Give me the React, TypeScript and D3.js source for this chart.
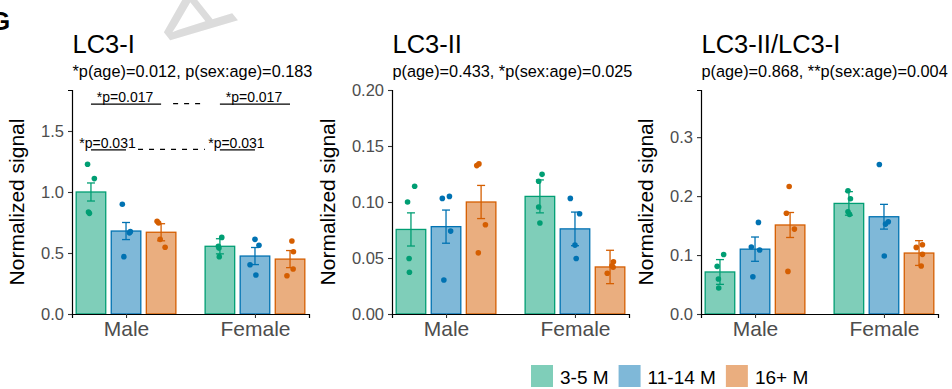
import React, { useEffect, useRef } from "react";
import * as d3 from "d3";

// groups
const sexes = ["Male", "Female"];
const ages = ["3-5 M", "11-14 M", "16+ M"];
const ageColors = ["#009E73", "#0072B2", "#D55E00"];

// panel text + y axis
const titles = ["LC3-I", "LC3-II", "LC3-II/LC3-I"];
const subtitles = [
  "*p(age)=0.012, p(sex:age)=0.183",
  "p(age)=0.433, *p(sex:age)=0.025",
  "p(age)=0.868, **p(sex:age)=0.004",
];
const yMaxes = [1.836, 0.2, 0.38];
const yTickValues = [
  [0, 0.5, 1.0, 1.5],
  [0, 0.05, 0.1, 0.15, 0.2],
  [0, 0.1, 0.2, 0.3],
];
const yTickFormats = [".1f", ".2f", ".1f"];

// LC3-I  -> [sex][age]
const lc3iMean = [[1.0, 0.68, 0.67], [0.555, 0.475, 0.45]];
const lc3iSe = [[0.074, 0.07, 0.07], [0.062, 0.07, 0.07]];
const lc3iPoints = [
  [[1.227, 1.11, 0.836, 0.825], [0.9, 0.675, 0.665, 0.47], [0.76, 0.746, 0.612, 0.547]],
  [[0.628, 0.555, 0.54, 0.47], [0.612, 0.563, 0.404, 0.32], [0.598, 0.51, 0.369, 0.314]],
];
const lc3iJitter = [
  [[-0.11, 0.11, -0.08, -0.05], [-0.12, 0.14, 0.11, -0.07], [-0.13, -0.08, -0.03, 0.13]],
  [[0.06, -0.05, -0.03, -0.02], [0, 0.13, -0.16, 0.03], [0.06, 0.11, 0.1, -0.1]],
];

// LC3-II
const lc3iiMean = [[0.0755, 0.078, 0.1], [0.105, 0.076, 0.042]];
const lc3iiSe = [[0.0148, 0.0148, 0.0148], [0.0147, 0.015, 0.0149]];
const lc3iiPoints = [
  [[0.114, 0.1, 0.0495, 0.0373], [0.1032, 0.105, 0.074, 0.0304], [0.134, 0.1325, 0.0797, 0.0546]],
  [[0.1247, 0.1185, 0.0955, 0.0812], [0.1032, 0.0895, 0.0615, 0.0495], [0.0466, 0.043, 0.0418, 0.0364]],
];
const lc3iiJitter = [
  [[0.12, -0.11, -0.06, -0.05], [-0.12, 0.11, 0.15, -0.07], [-0.07, -0.14, 0.14, -0.09]],
  [[0.07, -0.04, -0.04, 0], [-0.15, 0.15, 0, 0.04], [0.11, 0.06, 0.1, -0.09]],
];

// LC3-II/LC3-I
const ratioMean = [[0.0713, 0.11, 0.151], [0.1876, 0.165, 0.1034]];
const ratioSe = [[0.021, 0.0206, 0.0212], [0.02, 0.021, 0.021]];
const ratioPoints = [
  [[0.101, 0.0808, 0.0593, 0.044], [0.1554, 0.1136, 0.1085, 0.0633], [0.2164, 0.171, 0.144, 0.0723]],
  [[0.209, 0.1955, 0.1734, 0.169], [0.2537, 0.1565, 0.1525, 0.0983], [0.1175, 0.113, 0.1012, 0.0814]],
];
const ratioJitter = [
  [[0.12, -0.09, -0.05, -0.04], [0.11, -0.12, 0.15, -0.07], [-0.03, -0.12, 0.14, -0.07]],
  [[-0.03, 0.05, -0.03, 0.02], [-0.15, 0.14, 0.05, 0.01], [0.11, -0.09, 0.11, 0.07]],
];

// pairwise comparisons drawn on LC3-I
const lc3iBrackets = [
  { sex: "Male", from: "3-5 M", to: "16+ M", label: "*p=0.017", y: 1.72 },
  { sex: "Female", from: "3-5 M", to: "16+ M", label: "*p=0.017", y: 1.72 },
  { sex: "Male", from: "3-5 M", to: "11-14 M", label: "*p=0.031", y: 1.345 },
  { sex: "Female", from: "3-5 M", to: "11-14 M", label: "*p=0.031", y: 1.345 },
];

const means = [lc3iMean, lc3iiMean, ratioMean];
const ses = [lc3iSe, lc3iiSe, ratioSe];
const points = [lc3iPoints, lc3iiPoints, ratioPoints];
const jitters = [lc3iJitter, lc3iiJitter, ratioJitter];

const W = 952;
const H = 389;
const panelLefts = [72, 392, 701];
const plotW = 237;
const plotTop = 90;
const plotBottom = 314;
const font = "'Liberation Sans', Arial, Helvetica, sans-serif";

function drawPanel(svg, i) {
  const g = svg.append("g").attr("transform", `translate(${panelLefts[i]},0)`);

  const y = d3.scaleLinear().domain([0, yMaxes[i]]).range([plotBottom, plotTop]);
  const xSex = d3.scalePoint().domain(sexes).range([0, plotW]).padding(0.419);
  const xAge = d3.scaleBand().domain(ages).range([-50.5, 50.5]).paddingInner(0.12);
  const bw = xAge.bandwidth();
  const cx = (s, a) => xSex(s) + xAge(a) + bw / 2;

  const rows = [];
  sexes.forEach((s, si) =>
    ages.forEach((a, ai) =>
      rows.push({
        s, a, ai,
        mean: means[i][si][ai],
        se: ses[i][si][ai],
        pts: points[i][si][ai],
        jit: jitters[i][si][ai],
      })
    )
  );

  // bars
  g.selectAll("rect.bar").data(rows).enter().append("rect")
    .attr("class", "bar")
    .attr("x", d => cx(d.s, d.a) - bw / 2 + 0.65)
    .attr("width", bw - 1.3)
    .attr("y", d => y(d.mean))
    .attr("height", d => y(0) - y(d.mean))
    .attr("fill", d => ageColors[d.ai])
    .attr("fill-opacity", 0.5)
    .attr("stroke", d => ageColors[d.ai])
    .attr("stroke-width", 1.3);

  // error bars (mean +/- se)
  const eb = g.selectAll("g.eb").data(rows).enter().append("g")
    .attr("class", "eb")
    .attr("stroke", d => ageColors[d.ai])
    .attr("stroke-width", 1.3)
    .attr("fill", "none");
  eb.append("line")
    .attr("x1", d => cx(d.s, d.a)).attr("x2", d => cx(d.s, d.a))
    .attr("y1", d => y(d.mean + d.se)).attr("y2", d => y(d.mean - d.se));
  [1, -1].forEach(sign => {
    eb.append("line")
      .attr("x1", d => cx(d.s, d.a) - 4).attr("x2", d => cx(d.s, d.a) + 4)
      .attr("y1", d => y(d.mean + sign * d.se)).attr("y2", d => y(d.mean + sign * d.se));
  });

  // individual animals
  const dots = rows.flatMap(d => d.pts.map((v, k) => ({ ...d, v, j: d.jit[k] })));
  g.selectAll("circle.pt").data(dots).enter().append("circle")
    .attr("class", "pt")
    .attr("cx", d => cx(d.s, d.a) + d.j * bw)
    .attr("cy", d => y(d.v))
    .attr("r", 2.8)
    .attr("fill", d => ageColors[d.ai]);

  // axes
  const yAxis = d3.axisLeft(y)
    .tickValues(yTickValues[i])
    .tickFormat(d3.format(yTickFormats[i]))
    .tickSizeOuter(0)
    .tickSize(4)
    .tickPadding(4);
  const ya = g.append("g").call(yAxis);
  ya.selectAll("text").attr("font-size", 16.5).attr("fill", "#4d4d4d").attr("font-family", font);

  const xAxis = d3.axisBottom(xSex).tickSizeOuter(0).tickSize(4).tickPadding(3);
  const xa = g.append("g").attr("transform", `translate(0,${plotBottom})`).call(xAxis);
  xa.selectAll("text").attr("font-size", 21).attr("fill", "#4d4d4d").attr("font-family", font);

  [ya, xa].forEach(a => {
    a.select(".domain").attr("stroke", "#000").attr("stroke-width", 1.2);
    a.selectAll(".tick line").attr("stroke", "#333").attr("stroke-width", 1.1);
  });

  // y title, placed left of the widest tick label
  const labelW = d3.max(ya.selectAll("text").nodes(), n => n.getComputedTextLength());
  g.append("text")
    .attr("transform", `translate(${-(8 + labelW + 17)},${(plotTop + plotBottom) / 2}) rotate(-90)`)
    .attr("text-anchor", "middle")
    .attr("font-size", 21)
    .attr("font-family", font)
    .text("Normalized signal");

  // titles
  g.append("text").attr("x", 0.5).attr("y", 53)
    .attr("font-size", 25.5).attr("font-family", font).text(titles[i]);
  g.append("text").attr("x", 0.5).attr("y", 77)
    .attr("font-size", 16.3).attr("font-family", font).text(subtitles[i]);

  // significance brackets on LC3-I
  if (i === 0) {
    lc3iBrackets.forEach(b => {
      const x1 = cx(b.sex, b.from);
      const x2 = cx(b.sex, b.to);
      g.append("line").attr("x1", x1).attr("x2", x2)
        .attr("y1", y(b.y)).attr("y2", y(b.y))
        .attr("stroke", "#000").attr("stroke-width", 1.2);
      g.append("text").attr("x", (x1 + x2) / 2 - 1).attr("y", y(b.y) - 2)
        .attr("text-anchor", "middle").attr("font-size", 14).attr("font-family", font)
        .text(b.label);
    });
    // dashed links between the male and female comparisons
    d3.groups(lc3iBrackets, b => b.y).forEach(([lv, bs]) => {
      const m = bs.find(b => b.sex === "Male");
      const f = bs.find(b => b.sex === "Female");
      g.append("line")
        .attr("x1", cx(m.sex, m.to) + 12).attr("x2", cx(f.sex, f.from) - 15)
        .attr("y1", y(lv) - 0.5).attr("y2", y(lv) - 0.5)
        .attr("stroke", "#000").attr("stroke-width", 1.2)
        .attr("stroke-dasharray", "5,6");
    });
  }
}

function draw(svg) {
  svg.append("rect").attr("width", W).attr("height", H).attr("fill", "#fff");

  // faint watermark at the top
  svg.append("text")
    .attr("transform", "translate(165,38) rotate(231.5) translate(0,68)")
    .attr("text-anchor", "middle")
    .attr("font-size", 95)
    .attr("font-family", font)
    .attr("fill", "#dcdcdc")
    .text("A");

  // panel letter
  svg.append("text").attr("x", -10).attr("y", 30)
    .attr("font-size", 26).attr("font-weight", "bold").attr("font-family", font)
    .text("G");

  [0, 1, 2].forEach(i => drawPanel(svg, i));

  // legend
  const legend = svg.append("g").attr("transform", "translate(531,365)");
  let lx = 0;
  ages.forEach((a, k) => {
    legend.append("rect").attr("x", lx).attr("y", 0).attr("width", 22).attr("height", 22)
      .attr("fill", ageColors[k]).attr("fill-opacity", 0.5);
    const t = legend.append("text").attr("x", lx + 29).attr("y", 19)
      .attr("font-size", 19).attr("font-family", font).text(a);
    lx += 29 + t.node().getComputedTextLength() + 10;
  });
}

export default function App() {
  const ref = useRef(null);

  useEffect(() => {
    const svg = d3.select(ref.current);
    svg.selectAll("*").remove();
    draw(svg);
  }, []);

  return (
    <svg
      ref={ref}
      width={W}
      height={H}
      style={{ position: "absolute", left: 0, top: 0, display: "block" }}
    />
  );
}
